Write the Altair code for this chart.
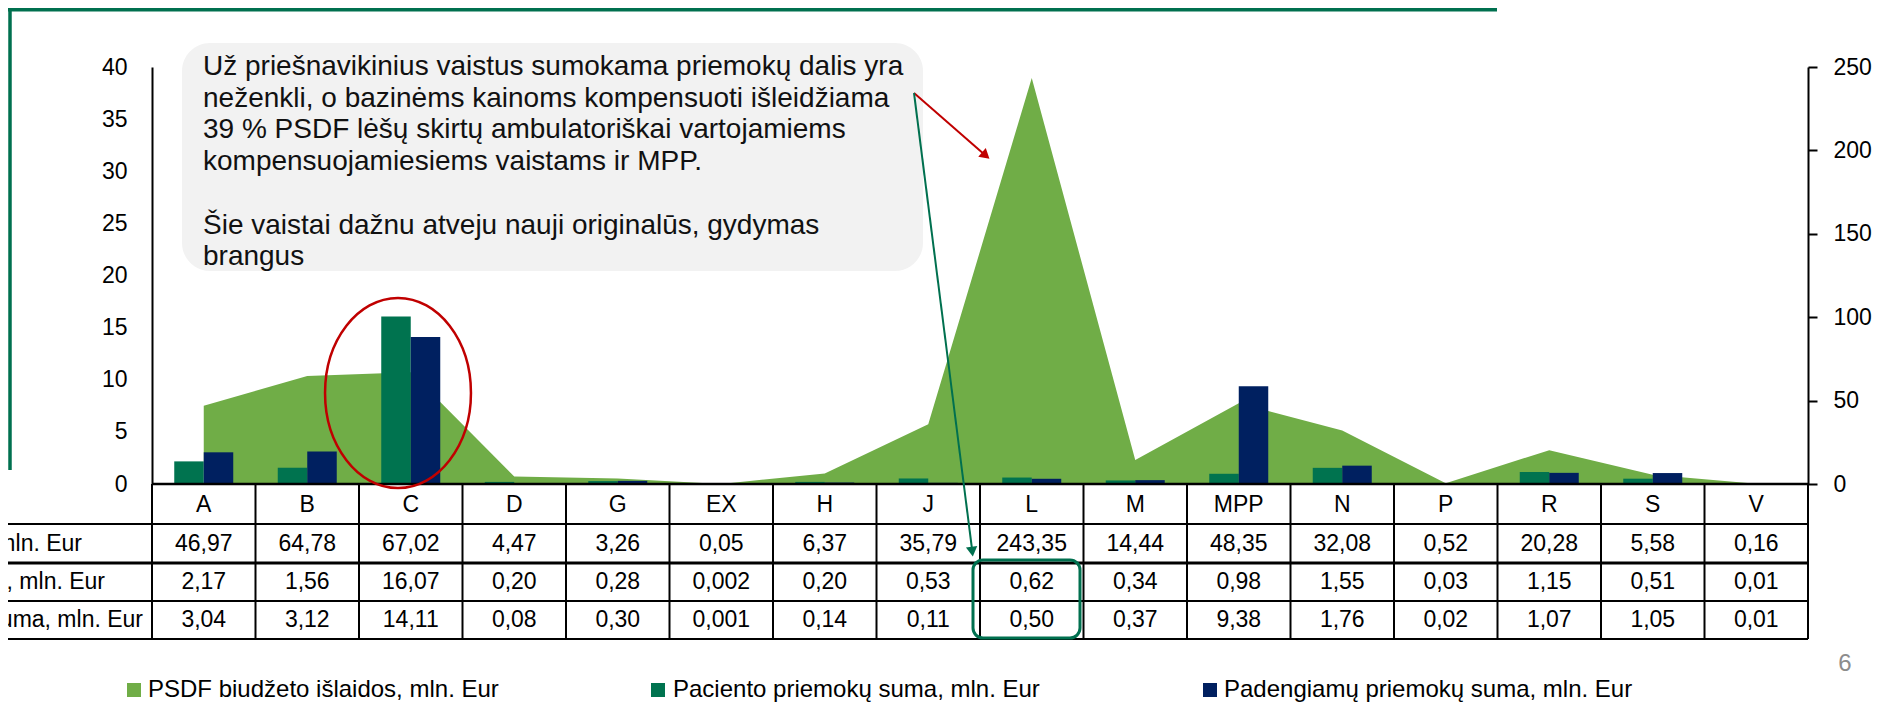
import altair as alt
import pandas as pd

# ---------------- data ----------------
categories = ["A", "B", "C", "D", "G", "EX", "H", "J", "L", "M", "MPP", "N", "P", "R", "S", "V"]
psdf = [46.97, 64.78, 67.02, 4.47, 3.26, 0.05, 6.37, 35.79, 243.35, 14.44, 48.35, 32.08, 0.52, 20.28, 5.58, 0.16]
paciento = [2.17, 1.56, 16.07, 0.20, 0.28, 0.002, 0.20, 0.53, 0.62, 0.34, 0.98, 1.55, 0.03, 1.15, 0.51, 0.01]
padengiamu = [3.04, 3.12, 14.11, 0.08, 0.30, 0.001, 0.14, 0.11, 0.50, 0.37, 9.38, 1.76, 0.02, 1.07, 1.05, 0.01]
series_names = [
    "PSDF biudžeto išlaidos, mln. Eur",
    "Paciento priemokų suma, mln. Eur",
    "Padengiamų priemokų suma, mln. Eur",
]
left_ticks = [0, 5, 10, 15, 20, 25, 30, 35, 40]
right_ticks = [0, 50, 100, 150, 200, 250]
note_paragraph_1 = [
    "Už priešnavikinius vaistus sumokama priemokų dalis yra",
    "neženkli, o bazinėms kainoms kompensuoti išleidžiama",
    "39 % PSDF lėšų skirtų ambulatoriškai vartojamiems",
    "kompensuojamiesiems vaistams ir MPP.",
]
note_paragraph_2 = [
    "Šie vaistai dažnu atveju nauji originalūs, gydymas",
    "brangus",
]
page_number = "6"

# ---------------- style / layout ----------------
FONT = "Liberation Sans"
C_AREA = "#70AD47"
C_GREEN = "#00734F"
C_NAVY = "#002060"
C_FRAME = "#00704F"
C_RED = "#C00000"

W, H = 1656, 417
ROW_Y = [437.5, 476.5, 515, 553]          # header, row1, row2, row3 centres
HLINES = [(457, 2), (496, 3), (534, 2), (572, 2)]
TABLE_BOTTOM = 572
LABEL_RIGHT_X = [-70, -47, -9]
LEGEND_SQ_X = [-18, 506, 1058]
LEGEND_TX_X = [-4, 521, 1072]
LEGEND_Y = 623
NOTE_LH = 31.7


def fmt(v):
    s = f"{v:.3f}" if 0 < v < 0.01 else f"{v:.2f}"
    return s.replace(".", ",")


df = pd.DataFrame({"cat": categories, "psdf": psdf, "pac": paciento, "pad": padengiamu})
for col in ["psdf", "pac", "pad"]:
    df[col + "_t"] = df[col].map(fmt)

one = alt.Data(values=[{"k": 0}])
xscale = alt.Scale(type="band", domain=categories, paddingInner=0, paddingOuter=0)
x = alt.X("cat:N", scale=xscale, axis=None)

layers = []

# area on right axis
layers.append(
    alt.Chart(df).mark_area(color=C_AREA, opacity=1).encode(
        x=x,
        y=alt.Y("psdf:Q", scale=alt.Scale(domain=[0, 250], nice=False),
                axis=alt.Axis(orient="right", values=right_ticks, grid=False, title=None,
                              tickSize=9, tickWidth=2, tickColor="black",
                              domainColor="black", domainWidth=2,
                              labelFontSize=23, labelPadding=16, labelColor="black")),
    )
)

# bars on left axis
layers.append(
    alt.Chart(df).mark_bar(width=29.5, xOffset=-14.75, color=C_GREEN).encode(
        x=x,
        y=alt.Y("pac:Q", scale=alt.Scale(domain=[0, 40], nice=False),
                axis=alt.Axis(orient="left", values=left_ticks, grid=False, title=None,
                              ticks=False, tickSize=0, domainColor="black", domainWidth=2,
                              labelFontSize=23, labelPadding=25, labelColor="black")),
    )
)
layers.append(
    alt.Chart(df).mark_bar(width=29.5, xOffset=14.75, color=C_NAVY).encode(
        x=x,
        y=alt.Y("pad:Q", scale=alt.Scale(domain=[0, 40], nice=False), axis=None),
    )
)

# baseline
layers.append(alt.Chart(one).mark_rule(color="black", strokeWidth=2.5).encode(
    x=alt.value(0), x2=alt.value(W), y=alt.value(H)))

# table vertical lines
layers.append(alt.Chart(df).mark_rule(color="black", strokeWidth=2).encode(
    x=alt.X("cat:N", scale=xscale, axis=None, bandPosition=0),
    y=alt.value(H), y2=alt.value(TABLE_BOTTOM)))
layers.append(alt.Chart(one).mark_rule(color="black", strokeWidth=2).encode(
    x=alt.value(W), y=alt.value(H), y2=alt.value(TABLE_BOTTOM)))

# table horizontal lines
for yy, sw in HLINES:
    layers.append(alt.Chart(one).mark_rule(color="black", strokeWidth=sw).encode(
        x=alt.value(-160), x2=alt.value(W), y=alt.value(yy)))

# table text
for field, yy in zip(["cat", "psdf_t", "pac_t", "pad_t"], ROW_Y):
    layers.append(alt.Chart(df).mark_text(fontSize=23, color="black", baseline="middle").encode(
        x=x, y=alt.value(yy), text=alt.Text(field + ":N")))

# row labels (cut off at the left edge as in the slide)
for name, xr, yy in zip(series_names, LABEL_RIGHT_X, ROW_Y[1:]):
    layers.append(alt.Chart(one).mark_text(fontSize=23, color="black", align="right",
                                           baseline="middle").encode(
        x=alt.value(xr), y=alt.value(yy), text=alt.value(name)))

# annotation box
layers.append(alt.Chart(one).mark_rect(fill="#F2F2F2", cornerRadius=28).encode(
    x=alt.value(30), x2=alt.value(771), y=alt.value(-24), y2=alt.value(204)))
for lines, y0 in [(note_paragraph_1, 8), (note_paragraph_2, 8 + 5 * NOTE_LH)]:
    layers.append(alt.Chart(one).mark_text(fontSize=28, color="#111111", align="left",
                                           baseline="alphabetic", lineHeight=NOTE_LH).encode(
        x=alt.value(51), y=alt.value(y0), text=alt.value(lines)))

# red ellipse around C
ellipse_path = "M -0.768 0 A 0.768 1 0 1 0 0.768 0 A 0.768 1 0 1 0 -0.768 0 Z"
layers.append(alt.Chart(one).mark_point(shape=ellipse_path, size=36100, filled=False,
                                        stroke=C_RED, strokeWidth=2.5, opacity=1).encode(
    x=alt.value(246), y=alt.value(326)))

# arrows
layers.append(alt.Chart(one).mark_rule(color=C_RED, strokeWidth=2).encode(
    x=alt.value(762), y=alt.value(26), x2=alt.value(833), y2=alt.value(88)))
layers.append(alt.Chart(one).mark_point(shape="triangle", size=130, filled=True, color=C_RED,
                                        opacity=1, angle=131).encode(
    x=alt.value(832.5), y=alt.value(87.5)))
layers.append(alt.Chart(one).mark_rule(color=C_FRAME, strokeWidth=2).encode(
    x=alt.value(762), y=alt.value(26), x2=alt.value(820), y2=alt.value(482)))
layers.append(alt.Chart(one).mark_point(shape="triangle", size=130, filled=True, color=C_FRAME,
                                        opacity=1, angle=172.7).encode(
    x=alt.value(820), y=alt.value(483)))

# green rounded rect around L cells
layers.append(alt.Chart(one).mark_rect(fill="transparent", stroke=C_FRAME, strokeWidth=3,
                                       cornerRadius=10).encode(
    x=alt.value(821), x2=alt.value(928), y=alt.value(493), y2=alt.value(571)))

# slide frame lines
layers.append(alt.Chart(one).mark_rule(color=C_FRAME, strokeWidth=4).encode(
    x=alt.value(-160), x2=alt.value(1345), y=alt.value(-57.5)))
layers.append(alt.Chart(one).mark_rule(color=C_FRAME, strokeWidth=3.5).encode(
    x=alt.value(-142), y=alt.value(-59), y2=alt.value(403)))

# legend
for name, col, sx, tx in zip(series_names, [C_AREA, C_GREEN, C_NAVY], LEGEND_SQ_X, LEGEND_TX_X):
    layers.append(alt.Chart(one).mark_square(size=196, color=col, opacity=1).encode(
        x=alt.value(sx), y=alt.value(LEGEND_Y)))
    layers.append(alt.Chart(one).mark_text(fontSize=24, color="black", align="left",
                                           baseline="middle").encode(
        x=alt.value(tx), y=alt.value(LEGEND_Y), text=alt.value(name)))

# page number
layers.append(alt.Chart(one).mark_text(fontSize=24, color="#8C8C8C", align="center",
                                       baseline="middle").encode(
    x=alt.value(1693), y=alt.value(597), text=alt.value(page_number)))

chart = (
    alt.layer(*layers)
    .resolve_scale(y="independent")
    .properties(width=W, height=H, autosize=alt.AutoSizeParams(type="none"),
                padding={"left": 144, "top": 59, "right": 80, "bottom": 222})
    .configure_view(stroke=None)
    .configure_axis(labelFont=FONT)
    .configure_text(font=FONT)
)

chart.save("out.html", embed_options={"renderer": "svg", "actions": False})
